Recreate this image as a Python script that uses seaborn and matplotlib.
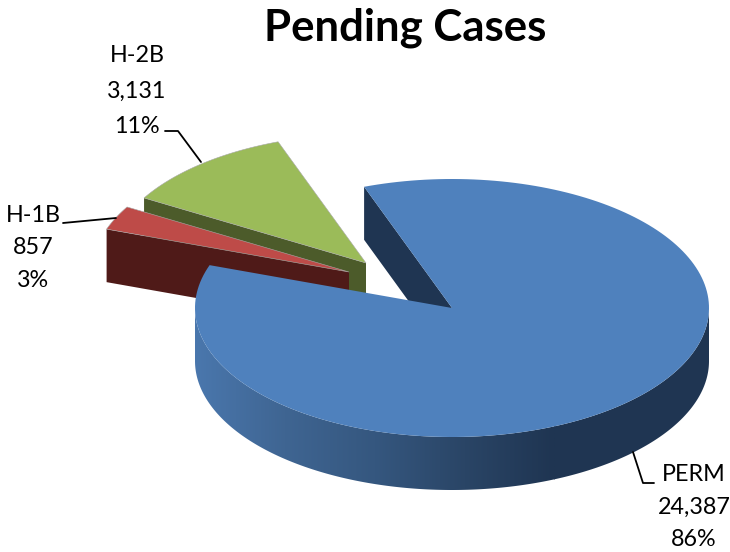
import numpy as np
import matplotlib
matplotlib.use("Agg")
import matplotlib.pyplot as plt
from matplotlib.patches import Polygon
import seaborn as sns

categories = ["PERM", "H-1B", "H-2B"]
cases = [24387, 857, 3131]

top_colors = ["#4f81bd", "#be4b48", "#9bbb59"]
side_colors = ["#1f3552", "#4f1a18", "#4c5b2a"]

sns.set_theme(style="white")
plt.rcParams["font.family"] = ["Lato", "DejaVu Sans"]

# pie projection, in pixels
cx, cy = 452, 308
rx, ry = 257, 129
depth = 53
first_angle = -20
offsets = [(0, 0), (-103, -36), (-86, -45)]


def rim(deg, dx=0, dy=0):
    t = np.radians(deg)
    return cx + dx + rx * np.sin(t), cy + dy - ry * np.cos(t)


values = np.array(cases, dtype=float)
spans = values / values.sum() * 360
starts = first_angle + np.concatenate([[0], np.cumsum(spans)[:-1]])

fig = plt.figure(figsize=(7.3, 5.52), dpi=100)
ax = fig.add_axes([0, 0, 1, 1])
ax.set_xlim(0, 730)
ax.set_ylim(552, 0)
ax.axis("off")

# exploded slices first, then the big one on top
for i in [2, 1, 0]:
    a0, a1 = starts[i], starts[i] + spans[i]
    dx, dy = offsets[i]
    xs, ys = rim(np.linspace(a0, a1, 200), dx, dy)
    px, py = cx + dx, cy + dy

    # cut face that looks to the viewer
    ex, ey = rim(a0, dx, dy)
    ax.add_patch(Polygon([(ex, ey), (px, py), (px, py + depth), (ex, ey + depth)],
                         closed=True, fc=side_colors[i], ec="none", zorder=2 + (2 - i) * 2))

    if i == 0:
        # front rim with the shading from left to right
        fx, fy = rim(np.linspace(90, 270, 300))
        verts = np.vstack([np.column_stack([fx, fy]),
                           np.column_stack([fx[::-1], fy[::-1] + depth])])
        clip = Polygon(verts, closed=True, fc="none", ec="none", zorder=6)
        ax.add_patch(clip)
        cmap = sns.blend_palette(["#1f3552", "#2a4566", "#35577f", "#3f6592", "#4a77ad"], as_cmap=True)
        grad = np.linspace(1, 0, 256).reshape(1, -1)
        im = ax.imshow(grad, extent=[cx - rx, 555, cy + depth + ry, cy], cmap=cmap,
                       aspect="auto", zorder=6)
        im.set_clip_path(clip)
        ax.fill_betweenx([cy - 1, cy + depth + ry + 1], 554, cx + rx + 1, color="#1f3552",
                         lw=0, zorder=5.9, clip_path=clip)
        ax.set_xlim(0, 730)
        ax.set_ylim(552, 0)

    edge = "none" if i == 0 else "#a8a8a8"
    ax.fill(np.r_[px, xs], np.r_[py, ys], fc=top_colors[i], ec=edge, lw=0.4,
            zorder=3 + (2 - i) * 2 + (2 if i == 0 else 0))

# labels
total = values.sum()
label_pos = [(694, 507), (33, 248), (137, 91)]
label_spacing = [1.65, 1.65, 1.85]
for name, n, (lx, ly), sp in zip(categories, cases, label_pos, label_spacing):
    share = round(n / total * 100)
    ax.text(lx, ly, f"{name}\n{n:,}\n{share}%", ha="center", va="center",
            fontsize=16.8, color="black", linespacing=sp, zorder=12)

# leader lines
ax.plot([633, 643, 654], [452, 483, 483], color="black", lw=1.3, zorder=11)
ax.plot([63, 116], [223, 218], color="black", lw=1.3, zorder=11)
ax.plot([165, 178, 201], [131, 131, 162], color="black", lw=1.3, zorder=11)

ax.text(405, 28, "Pending Cases", ha="center", va="center", fontsize=31.5,
        fontweight="bold", color="black")

fig.savefig("out.png", dpi=100)
